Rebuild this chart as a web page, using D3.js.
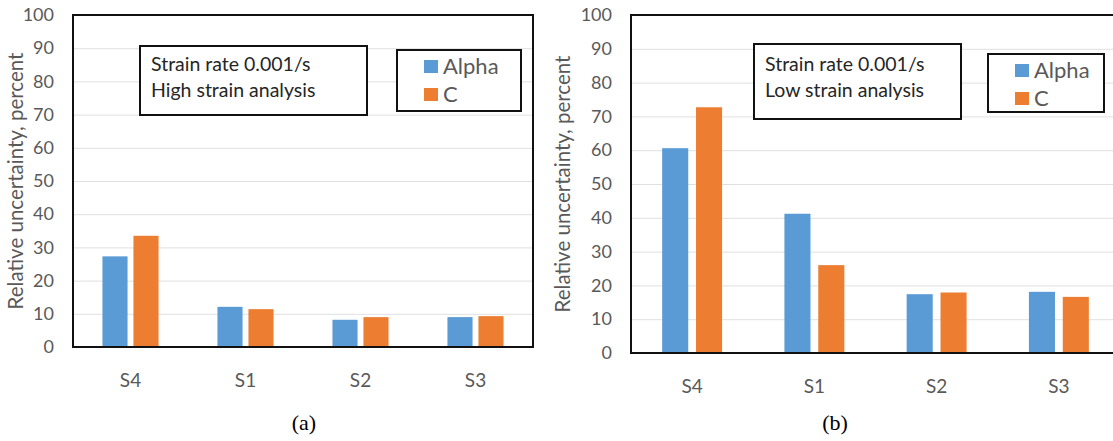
<!DOCTYPE html>
<html>
<head>
<meta charset="utf-8">
<script src="https://cdn.jsdelivr.net/npm/d3@7"></script>
<style>
  body { margin: 0; background: #fff; }
  svg { display: block; font-family: Lato, "Open Sans", sans-serif; }
  .tick text { fill: #595959; }
</style>
</head>
<body>
<div id="chart"></div>
<script>
// values
var categories = ['S4', 'S1', 'S2', 'S3'];
var seriesNames = ['Alpha', 'C'];
var alphaHigh = [27.3, 12.1, 8.2, 9.0];
var cHigh = [33.5, 11.4, 9.0, 9.3];
var alphaLow = [60.6, 41.2, 17.4, 18.1];
var cLow = [72.7, 26.0, 17.9, 16.6];
var yTicks = [0, 10, 20, 30, 40, 50, 60, 70, 80, 90, 100];
var colors = ['#5b9bd5', '#ed7d31'];

var W = 1113, H = 441;

var svg = d3.select('#chart').append('svg')
	.attr('width', W)
	.attr('height', H);

var drawPanel = function (p) {
	var x = d3.scaleBand().domain(categories).range([p.left, p.right]);
	var xs = d3.scaleBand().domain(seriesNames).range([0, x.bandwidth()])
		.paddingInner(p.padIn).paddingOuter(p.padOut);
	var y = d3.scaleLinear().domain([0, 100]).range([p.bottom, p.top]);
	var g = svg.append('g');

	// grid
	g.append('g')
		.attr('transform', 'translate(' + p.left + ',0)')
		.call(d3.axisLeft(y).tickValues(yTicks.slice(1, -1)).tickSize(-(p.right - p.left)).tickFormat(''))
		.call(function (s) {
			s.select('.domain').remove();
			s.selectAll('line').attr('stroke', '#e0e0e0').attr('stroke-width', 1);
		});

	// tick labels
	g.append('g')
		.attr('transform', 'translate(' + (p.left - 19) + ',0)')
		.call(d3.axisLeft(y).tickValues(yTicks).tickSize(0).tickPadding(0))
		.call(function (s) {
			s.select('.domain').remove();
			s.selectAll('text').attr('font-size', 18).attr('font-family', 'Lato, sans-serif');
		});

	// bars
	var rows = categories.map(function (c, i) {
		return [{cat: c, s: 'Alpha', v: p.a[i], k: 0}, {cat: c, s: 'C', v: p.c[i], k: 1}];
	});
	g.selectAll('g.cat')
		.data(rows)
		.enter().append('g')
		.attr('transform', function (d) {return 'translate(' + x(d[0].cat) + ',0)';})
		.selectAll('rect')
		.data(function (d) {return d;})
		.enter().append('rect')
		.attr('x', function (d) {return xs(d.s);})
		.attr('width', xs.bandwidth())
		.attr('y', function (d) {return y(d.v);})
		.attr('height', function (d) {return y(0) - y(d.v);})
		.attr('fill', function (d) {return colors[d.k];});

	// x labels
	g.append('g')
		.attr('transform', 'translate(0,' + (p.bottom + 26) + ')')
		.call(d3.axisBottom(x).tickSize(0).tickPadding(0))
		.call(function (s) {
			s.select('.domain').remove();
			s.selectAll('text').attr('font-size', 19).attr('font-family', 'Lato, sans-serif');
		});

	// frame
	g.append('rect')
		.attr('x', p.left)
		.attr('y', p.top)
		.attr('width', p.right - p.left)
		.attr('height', p.bottom - p.top)
		.attr('fill', 'none')
		.attr('stroke', '#111')
		.attr('stroke-width', 2);

	// y title
	g.append('text')
		.attr('transform', 'translate(' + p.titleX + ',' + ((p.top + p.bottom) / 2) + ') rotate(-90)')
		.attr('text-anchor', 'middle')
		.attr('fill', '#595959')
		.attr('font-size', 20.5)
		.text('Relative uncertainty, percent');

	// note box
	g.append('rect')
		.attr('x', p.note.x).attr('y', p.note.y)
		.attr('width', p.note.w).attr('height', p.note.h)
		.attr('fill', '#fff').attr('stroke', '#111').attr('stroke-width', 2);
	p.note.lines.forEach(function (t, i) {
		g.append('text')
			.attr('x', p.note.x + 11)
			.attr('y', p.note.y + p.note.dy + i * 26)
			.attr('font-size', 19.5)
			.attr('fill', '#262626')
			.text(t);
	});

	// legend
	var lg = g.append('g').attr('transform', 'translate(' + p.leg.x + ',' + p.leg.y + ')');
	lg.append('rect')
		.attr('width', p.leg.w).attr('height', p.leg.h)
		.attr('fill', '#fff').attr('stroke', '#111').attr('stroke-width', 2);
	seriesNames.forEach(function (n, i) {
		lg.append('rect')
			.attr('x', 27).attr('y', 10 + i * 28)
			.attr('width', 14).attr('height', 13)
			.attr('fill', colors[i]);
		lg.append('text')
			.attr('x', 46).attr('y', 24 + i * 28)
			.attr('font-size', 22)
			.attr('fill', '#595959')
			.text(n);
	});

	// panel letter
	g.append('text')
		.attr('x', p.letterX).attr('y', 430)
		.attr('text-anchor', 'middle')
		.attr('font-family', '"Liberation Serif", "DejaVu Serif", serif')
		.attr('font-size', 22)
		.attr('fill', '#000')
		.text(p.letter);
};

drawPanel({
	left: 73, right: 533, top: 15, bottom: 347,
	padIn: 0.19, padOut: 0.95,
	a: alphaHigh, c: cHigh,
	titleX: 23,
	note: {x: 140, y: 46, w: 227, h: 69, dy: 25, lines: ['Strain rate 0.001/s', 'High strain analysis']},
	leg: {x: 397, y: 50, w: 124, h: 61},
	letter: '(a)', letterX: 304
});

drawPanel({
	left: 631, right: 1120, top: 15, bottom: 353,
	padIn: 0.23, padOut: 0.92,
	a: alphaLow, c: cLow,
	titleX: 570,
	note: {x: 754, y: 44, w: 207, h: 75, dy: 27, lines: ['Strain rate 0.001/s', 'Low strain analysis']},
	leg: {x: 988, y: 54, w: 116, h: 58},
	letter: '(b)', letterX: 835
});
</script>
</body>
</html>
